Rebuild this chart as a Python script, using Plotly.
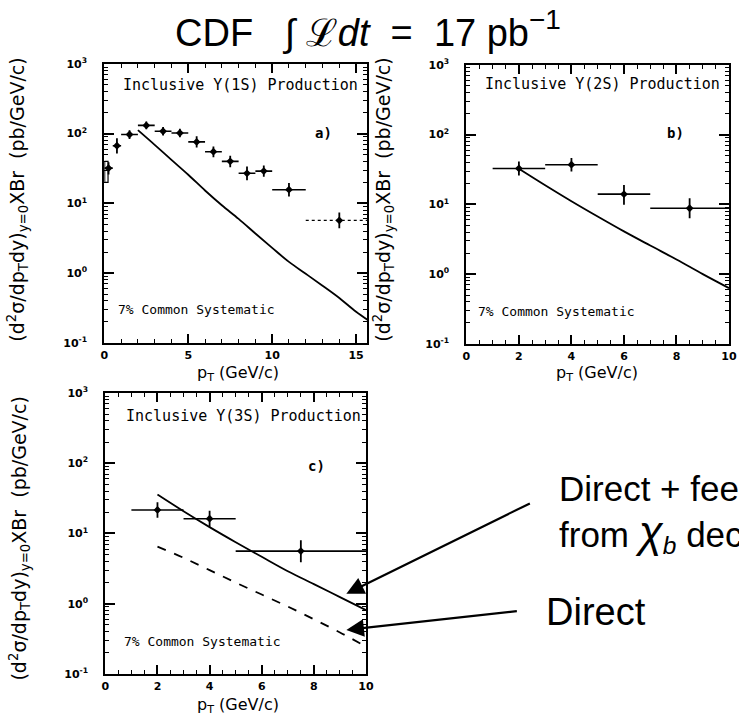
import plotly.graph_objects as go

W, H = 739, 727

# ---------------- data ----------------
# Panel a: Upsilon(1S)
a_x = [0.25, 0.75, 1.5, 2.5, 3.5, 4.5, 5.5, 6.5, 7.5, 8.5, 9.5, 11]
a_xerr = [0.25, 0.25, 0.5, 0.5, 0.5, 0.5, 0.5, 0.5, 0.5, 0.5, 0.5, 1]
a_y = [32, 67, 97, 131, 108, 102, 76, 55, 40, 27, 29, 15.7]
a_up = [7, 19, 15, 18, 16, 15, 16, 10.5, 8, 6.8, 6, 3.9]
a_dn = [6, 15, 13, 16, 14, 13, 13, 9, 7, 5.5, 5, 3.1]
a_last_x, a_last_xerr, a_last_y, a_last_up, a_last_dn = 14, 2, 5.7, 1.7, 1.3
a_syst_x = [0.02, 0.22]
a_syst_y = [20, 40]
a_curve_x = [2, 3, 4, 5, 6, 7, 8, 9, 10, 11, 12, 13, 14, 15, 16]
a_curve_y = [112, 69, 42, 25.7, 15.3, 9.4, 6.0, 3.7, 2.3, 1.45, 0.98, 0.66, 0.44, 0.28, 0.19]

# Panel b: Upsilon(2S)
b_x = [2, 4, 6, 8.5]
b_xerr = [1, 1, 1, 1.5]
b_y = [32.7, 37, 14, 8.8]
b_up = [8.5, 9.2, 5.0, 3.4]
b_dn = [6.7, 7.5, 4.1, 2.5]
b_curve_x = [2, 3, 4, 5, 6, 7, 8, 9, 10]
b_curve_y = [32.4, 18.8, 11.1, 6.7, 4.1, 2.57, 1.62, 1.0, 0.63]

# Panel c: Upsilon(3S)
c_x = [2, 4, 7.5]
c_xerr = [1, 1, 2.5]
c_y = [21.6, 16.2, 5.6]
c_up = [6.2, 4.9, 2.4]
c_dn = [4.9, 3.8, 1.7]
c_curve_x = [2, 3, 4, 5, 6, 7, 8, 9, 10]
c_total_y = [35.8, 20.7, 12.3, 7.5, 4.65, 2.9, 1.9, 1.24, 0.81]
c_direct_y = [6.5, 4.5, 3.0, 2.0, 1.35, 0.91, 0.6, 0.39, 0.245]

y_tickvals = [0.1, 1, 10, 100, 1000]
y_ticktext = ["10<sup>-1</sup>", "10<sup>0</sup>", "10<sup>1</sup>", "10<sup>2</sup>", "10<sup>3</sup>"]

ytitle = "(d<sup>2</sup>σ/dp<sub>T</sub>dy)<sub>y=0</sub>XBr  (pb/GeV/c)"
xtitle = "p<sub>T</sub> (GeV/c)"

# ---------------- figure ----------------
def px(x):
    return x / W

def py(y):
    return 1 - y / H

fig = go.Figure()

def data_trace(x, y, xerr, up, dn, xa, ya):
    fig.add_trace(go.Scatter(
        x=x, y=y, mode="markers", xaxis=xa, yaxis=ya,
        marker=dict(symbol="diamond", size=6, color="black"),
        error_x=dict(type="data", array=xerr, color="black", thickness=1.6, width=0),
        error_y=dict(type="data", array=up, arrayminus=dn, color="black", thickness=1.8, width=0),
        showlegend=False, hoverinfo="skip"))

def curve(x, y, xa, ya, dash="solid"):
    fig.add_trace(go.Scatter(
        x=x, y=y, mode="lines", xaxis=xa, yaxis=ya, line_shape="spline",
        line=dict(color="black", width=1.8, dash=dash),
        showlegend=False, hoverinfo="skip"))

# panel a
data_trace(a_x, a_y, a_xerr, a_up, a_dn, "x", "y")
fig.add_trace(go.Scatter(
    x=[a_last_x], y=[a_last_y], mode="markers", xaxis="x", yaxis="y",
    marker=dict(symbol="diamond", size=6, color="black"),
    error_y=dict(type="data", array=[a_last_up], arrayminus=[a_last_dn], color="black", thickness=1.8, width=0),
    showlegend=False, hoverinfo="skip"))
fig.add_trace(go.Scatter(
    x=[a_last_x - a_last_xerr, a_last_x + a_last_xerr], y=[a_last_y, a_last_y],
    mode="lines", xaxis="x", yaxis="y", line=dict(color="black", width=1.2, dash="dot"),
    showlegend=False, hoverinfo="skip"))
fig.add_trace(go.Scatter(
    x=[a_syst_x[0], a_syst_x[1], a_syst_x[1], a_syst_x[0], a_syst_x[0]],
    y=[a_syst_y[0], a_syst_y[0], a_syst_y[1], a_syst_y[1], a_syst_y[0]],
    mode="lines", xaxis="x", yaxis="y", line=dict(color="black", width=1.2),
    showlegend=False, hoverinfo="skip"))
curve(a_curve_x, a_curve_y, "x", "y")

# panel b
data_trace(b_x, b_y, b_xerr, b_up, b_dn, "x2", "y2")
curve(b_curve_x, b_curve_y, "x2", "y2")

# panel c
data_trace(c_x, c_y, c_xerr, c_up, c_dn, "x3", "y3")
curve(c_curve_x, c_total_y, "x3", "y3")
curve(c_curve_x, c_direct_y, "x3", "y3", dash="dash")

def xaxis_cfg(dom, rng, dtick, minor_dtick, anchor):
    return dict(domain=dom, range=rng, anchor=anchor, showgrid=False, zeroline=False,
                showline=True, linecolor="black", linewidth=2, mirror="allticks",
                ticks="inside", ticklen=9, tickwidth=1.5, tickcolor="black",
                tick0=0, dtick=dtick,
                minor=dict(ticks="inside", ticklen=4, tickwidth=1.2, tickcolor="black", dtick=minor_dtick, tick0=0),
                tickfont=dict(family="DejaVu Sans", size=11, color="black", weight="bold"),
                ticklabelstandoff=1)

def yaxis_cfg(dom, anchor):
    return dict(domain=dom, type="log", range=[-1, 3], anchor=anchor, showgrid=False, zeroline=False,
                showline=True, linecolor="black", linewidth=2, mirror="allticks",
                ticks="inside", ticklen=10, tickwidth=1.5, tickcolor="black",
                tickvals=y_tickvals, ticktext=y_ticktext,
                minor=dict(ticks="inside", ticklen=4, tickwidth=1.2, tickcolor="black", dtick="D1"),
                tickfont=dict(family="DejaVu Sans", size=11, color="black", weight="bold"),
                ticklabelstandoff=13)

fig.update_layout(
    width=W, height=H, margin=dict(l=0, r=0, t=0, b=0),
    paper_bgcolor="white", plot_bgcolor="white",
    xaxis=xaxis_cfg([px(102), px(369)], [0, 15.65], 5, 1, "y"),
    yaxis=yaxis_cfg([py(342), py(57)], "x"),
    xaxis2=xaxis_cfg([px(470), px(737)], [0, 10], 2, 0.5, "y2"),
    yaxis2=yaxis_cfg([py(343), py(58)], "x2"),
    xaxis3=xaxis_cfg([px(103), px(368)], [0, 10], 2, 0.5, "y3"),
    yaxis3=yaxis_cfg([py(680), py(393)], "x3"),
)

ann = []
mono = "DejaVu Sans Mono"
def text(x, y, s, size, family=mono, xanchor="left", angle=0, weight="normal"):
    ann.append(dict(x=px(x), y=py(y), xref="paper", yref="paper", text=s, showarrow=False,
                    xanchor=xanchor, yanchor="middle", textangle=angle,
                    font=dict(family=family, size=size, color="black", weight=weight)))

# title
text(370, 22, "CDF   ∫ ℒ<i>dt</i>  =  17 pb<span style='font-size:40px'><sup>−1</sup></span>", 38,
     family="Liberation Sans", xanchor="center")

# panel texts
text(119, 79, "Inclusive Υ(1S) Production", 15)
text(325, 128, "a)", 14, xanchor="center", weight="bold")
text(114, 308, "7% Common Systematic", 13)
text(487, 78, "Inclusive Υ(2S) Production", 15)
text(683, 128, "b)", 14, xanchor="center", weight="bold")
text(480, 310, "7% Common Systematic", 13)
text(122, 417, "Inclusive Υ(3S) Production", 15)
text(318, 468, "c)", 14, xanchor="center", weight="bold")
text(120, 647, "7% Common Systematic", 13)

# axis titles
text(14, 196, ytitle, 19, family="DejaVu Sans", xanchor="center", angle=-90)
text(386, 196, ytitle, 19, family="DejaVu Sans", xanchor="center", angle=-90)
text(16, 542, ytitle, 19, family="DejaVu Sans", xanchor="center", angle=-90)
text(238, 373, xtitle, 16, family="DejaVu Sans", xanchor="center")
text(603, 373, xtitle, 16, family="DejaVu Sans", xanchor="center")
text(238, 712, xtitle, 16, family="DejaVu Sans", xanchor="center")

# right-hand labels
text(562, 491, "Direct + feed-down", 35, family="Liberation Sans")
text(562, 536, "from <i><span style='font-size:44px'>χ</span><sub>b</sub></i> decays", 35, family="Liberation Sans")
text(549, 617, "Direct", 38, family="Liberation Sans")

# arrows
ann.append(dict(x=px(348), y=py(598), xref="paper", yref="paper", text="", showarrow=True,
                ax=185, ay=-91, arrowhead=2, arrowsize=1.6, arrowwidth=2.2, arrowcolor="black"))
ann.append(dict(x=px(348), y=py(635), xref="paper", yref="paper", text="", showarrow=True,
                ax=172, ay=-19, arrowhead=2, arrowsize=1.6, arrowwidth=2.2, arrowcolor="black"))

fig.update_layout(annotations=ann)
fig.write_html("out.html")
